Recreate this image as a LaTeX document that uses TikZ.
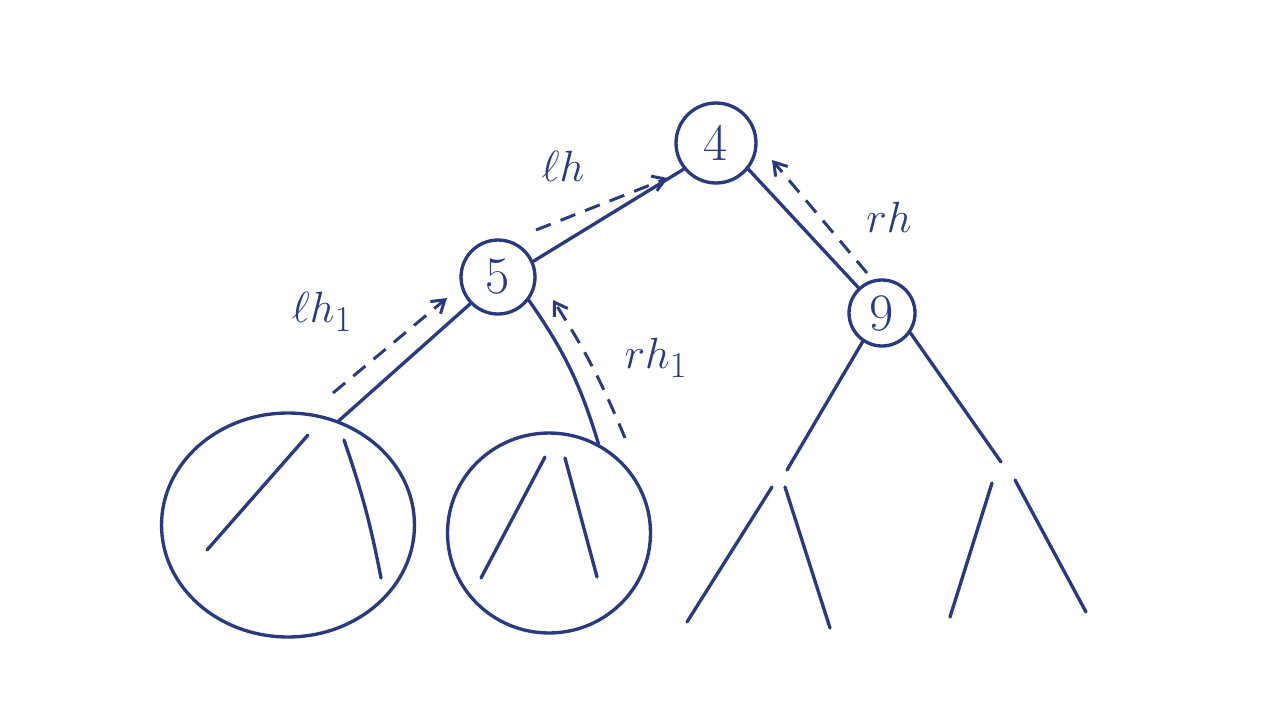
\documentclass[tikz,border=0pt]{standalone}
\usetikzlibrary{shapes.geometric,arrows.meta}
\definecolor{ink}{HTML}{2B3A7E}
\begin{document}
\begin{tikzpicture}[x=0.02cm,y=-0.02cm,
  pen/.style={draw=ink,line width=1.9pt,line cap=round},
  keynode/.style={circle,draw=ink,line width=1.9pt,inner sep=0pt,text=ink,font=\fontsize{30}{34}\selectfont},
  blob/.style={ellipse,draw=ink,line width=1.9pt,inner sep=0pt},
  hint/.style={draw=ink,line width=1.7pt,dash pattern=on 9pt off 6pt,-{Straight Barb[length=7pt,width=9pt]}},
  lbl/.style={text=ink,font=\fontsize{28}{32}\selectfont}]
\useasboundingbox (0,0) rectangle (1280,703);
% key nodes
\node[keynode,minimum size=1.6cm] (n4) at (716,143) {4};
\node[keynode,minimum size=1.48cm] (n5) at (498,277) {5};
\node[keynode,minimum size=1.32cm] (n9) at (882,313) {9};
% subtree blobs
\node[blob,minimum width=5.06cm,minimum height=4.48cm] (big) at (288,525) {};
\node[blob,minimum width=4.06cm,minimum height=4.0cm] (small) at (549,533) {};
% tree edges
\draw[pen] (n4.219) -- (n5.24);
\draw[pen] (n4.321) -- (n9.133);
\draw[pen] (n5.224) -- (big.64);
\draw[pen] (n5.323) to[bend left=9] (small.61);
% right subtree of 9
\coordinate (a1) at (787,470);
\coordinate (a2) at (1001,462);
\draw[pen] (n9.236) -- (a1);
\draw[pen] (n9.325) -- (a2);
\coordinate (b1) at (772,487); \coordinate (b1l) at (687,622); \coordinate (b1r) at (830,628);
\coordinate (b2) at (785,487);
\draw[pen] (b1) -- (b1l);
\draw[pen] (b2) -- (b1r);
\coordinate (b3) at (992,483); \coordinate (b3l) at (950,617);
\coordinate (b4) at (1015,480); \coordinate (b4r) at (1086,612);
\draw[pen] (b3) -- (b3l);
\draw[pen] (b4) -- (b4r);
% lines inside blobs
\coordinate (p1) at (308,435); \coordinate (p1e) at (207,550);
\coordinate (p2) at (344,440); \coordinate (p2e) at (381,578);
\draw[pen] (p1) -- (p1e);
\draw[pen] (p2) to[bend left=4] (p2e);
\coordinate (q1) at (545,457); \coordinate (q1e) at (481,578);
\coordinate (q2) at (565,458); \coordinate (q2e) at (597,577);
\draw[pen] (q1) -- (q1e);
\draw[pen] (q2) -- (q2e);
% dashed height arrows
\coordinate (h1s) at (536,230); \coordinate (h1e) at (668,178);
\coordinate (h2s) at (333,393); \coordinate (h2e) at (447,298);
\coordinate (h3s) at (625,438); \coordinate (h3e) at (553,300);
\coordinate (h4s) at (867,273); \coordinate (h4e) at (772,160);
\draw[hint] (h1s) -- (h1e);
\draw[hint] (h2s) -- (h2e);
\draw[hint] (h3s) to[bend right=5] (h3e);
\draw[hint] (h4s) -- (h4e);
% labels
\node[lbl] (lh) at (563,166) {$\ell h$};
\node[lbl] (lh1) at (322,312) {$\ell h_1$};
\node[lbl] (rh1) at (656,358) {$r h_1$};
\node[lbl] (rh) at (889,217) {$r h$};
\end{tikzpicture}
\end{document}
